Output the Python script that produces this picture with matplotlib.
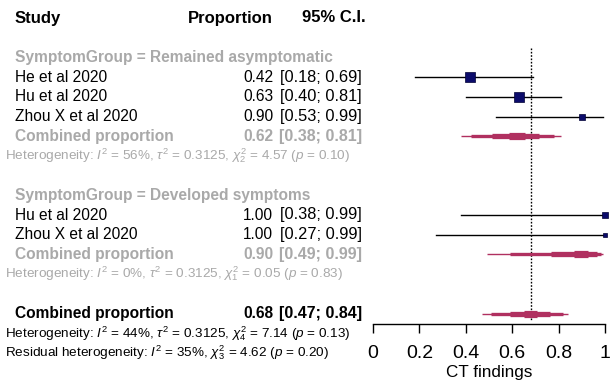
import numpy as np
import matplotlib.pyplot as plt
import matplotlib.transforms as mtransforms

plt.rcParams['font.family'] = 'Liberation Sans'
plt.rcParams['mathtext.fontset'] = 'custom'
plt.rcParams['mathtext.rm'] = 'Liberation Sans'
plt.rcParams['mathtext.it'] = 'Liberation Sans:italic'
plt.rcParams['mathtext.bf'] = 'Liberation Sans:bold'

# ---- data ----
group_names = ['SymptomGroup = Remained asymptomatic', 'SymptomGroup = Developed symptoms']
studies = [['He et al 2020', 'Hu et al 2020', 'Zhou X et al 2020'],
           ['Hu et al 2020', 'Zhou X et al 2020']]
props = [[0.42, 0.63, 0.90], [1.00, 1.00]]
lower = [[0.18, 0.40, 0.53], [0.38, 0.27]]
upper = [[0.69, 0.81, 0.99], [0.99, 0.99]]
weights = [[30, 38, 13], [10, 9]]

group_est = [0.62, 0.90]
group_lo = [0.38, 0.49]
group_hi = [0.81, 0.99]
group_het = [r'Heterogeneity: $I^2$ = 56%, $\tau^2$ = 0.3125, $\chi^2_2$ = 4.57 ($p$ = 0.10)',
             r'Heterogeneity: $I^2$ = 0%, $\tau^2$ = 0.3125, $\chi^2_1$ = 0.05 ($p$ = 0.83)']

overall_est, overall_lo, overall_hi = 0.68, 0.47, 0.84
overall_het = r'Heterogeneity: $I^2$ = 44%, $\tau^2$ = 0.3125, $\chi^2_4$ = 7.14 ($p$ = 0.13)'
resid_het = r'Residual heterogeneity: $I^2$ = 35%, $\chi^2_3$ = 4.62 ($p$ = 0.20)'

xticks = [0, 0.2, 0.4, 0.6, 0.8, 1]
xticklabels = ['0', '0.2', '0.4', '0.6', '0.8', '1']

# ---- style ----
W, H = 613, 382
row0, drow = 18, 19.7
grey = '#a9a9a9'
navy = '#0b0b6b'
maroon = '#b03060'
fs = 11.2
fs_ci = 11.8
fs_het = 9.7

fig = plt.figure(figsize=(W / 100, H / 100), dpi=100)
ax = fig.add_axes([373 / W, 0, 232 / W, 1])
ax.set_xlim(0, 1)
ax.set_ylim((H - row0) / drow, -row0 / drow)
ax.patch.set_visible(False)
for s in ['top', 'right', 'left']:
    ax.spines[s].set_visible(False)
ax.set_yticks([])

# text columns: x in pixels, y in rows
tr = mtransforms.blended_transform_factory(
    mtransforms.Affine2D().scale(1 / W, 1) + fig.transFigure, ax.transData)
x_name, x_het, x_prop, x_ci = 15, 5, 273, 280


def text_row(x, y, s, **kw):
    kw.setdefault('fontsize', fs)
    ax.text(x, y, s, transform=tr, va='center', clip_on=False, **kw)


text_row(x_name, 0, 'Study', fontweight='bold', fontsize=fs + 0.8)
text_row(x_prop, 0, 'Proportion', fontweight='bold', ha='right', fontsize=fs + 0.8)
text_row(302, 0, '95% C.I.', fontweight='bold', fontsize=fs + 0.8)


def draw_pooled(y, est, lo, hi):
    # layered band shrinking around the estimate (logit scale)
    lg = lambda p: np.log(p / (1 - p))
    il = lambda z: 1 / (1 + np.exp(-z))
    c, a, b = lg(est), lg(lo), lg(hi)
    for frac, lw in [(1.0, 1.0), (0.82, 2.4), (0.45, 3.8), (0.15, 5.2)]:
        ax.plot([il(c - frac * (c - a)), il(c + frac * (b - c))], [y, y],
                color=maroon, lw=lw, solid_capstyle='butt', zorder=3)


row = 2
for g in range(len(group_names)):
    text_row(x_name, row, group_names[g], color=grey, fontweight='bold')
    row += 1
    for i, name in enumerate(studies[g]):
        text_row(x_name, row, name)
        text_row(x_prop, row, f'{props[g][i]:.2f}', ha='right')
        text_row(x_ci, row, f'[{lower[g][i]:.2f}; {upper[g][i]:.2f}]', fontsize=fs_ci)
        ax.plot([lower[g][i], upper[g][i] if props[g][i] < 1 else 1.0], [row, row],
                color='black', lw=1.0, zorder=2, clip_on=False)
        ax.plot(props[g][i], row, marker='s', color=navy, mec='#000033', mew=0.5,
                ms=1.2 * np.sqrt(weights[g][i]), zorder=4, clip_on=False)
        row += 1
    text_row(x_name, row, 'Combined proportion', color=grey, fontweight='bold')
    text_row(x_prop, row, f'{group_est[g]:.2f}', color=grey, fontweight='bold', ha='right')
    text_row(x_ci - 1, row, f'[{group_lo[g]:.2f}; {group_hi[g]:.2f}]', color=grey,
             fontweight='bold', fontsize=fs_ci - 0.3)
    draw_pooled(row, group_est[g], group_lo[g], group_hi[g])
    row += 1
    text_row(x_het, row, group_het[g], color=grey, fontsize=fs_het)
    row += 2

row = 15
text_row(x_name, row, 'Combined proportion', fontweight='bold')
text_row(x_prop, row, f'{overall_est:.2f}', fontweight='bold', ha='right')
text_row(x_ci - 1, row, f'[{overall_lo:.2f}; {overall_hi:.2f}]', fontweight='bold',
         fontsize=fs_ci - 0.3)
draw_pooled(row, overall_est, overall_lo, overall_hi)
text_row(x_het, row + 1, overall_het, fontsize=fs_het)
text_row(x_het, row + 2, resid_het, fontsize=fs_het)

# reference line at pooled estimate
ax.plot([overall_est, overall_est], [1.5, 15.35], color='black', lw=1.0,
        ls=(0, (1.2, 1.2)), zorder=1)

# x axis
ax.spines['bottom'].set_position(('data', (324 - row0) / drow))
ax.spines['bottom'].set_linewidth(1.0)
ax.set_xticks(xticks)
ax.set_xticklabels(xticklabels, fontsize=14)
ax.tick_params(axis='x', direction='out', length=6.5, width=1.0, pad=8.5)
ax.text(0.5, (372 - row0) / drow, 'CT findings', ha='center', va='center',
        fontsize=12.3, transform=ax.transData)

fig.savefig('out.png', dpi=100)
